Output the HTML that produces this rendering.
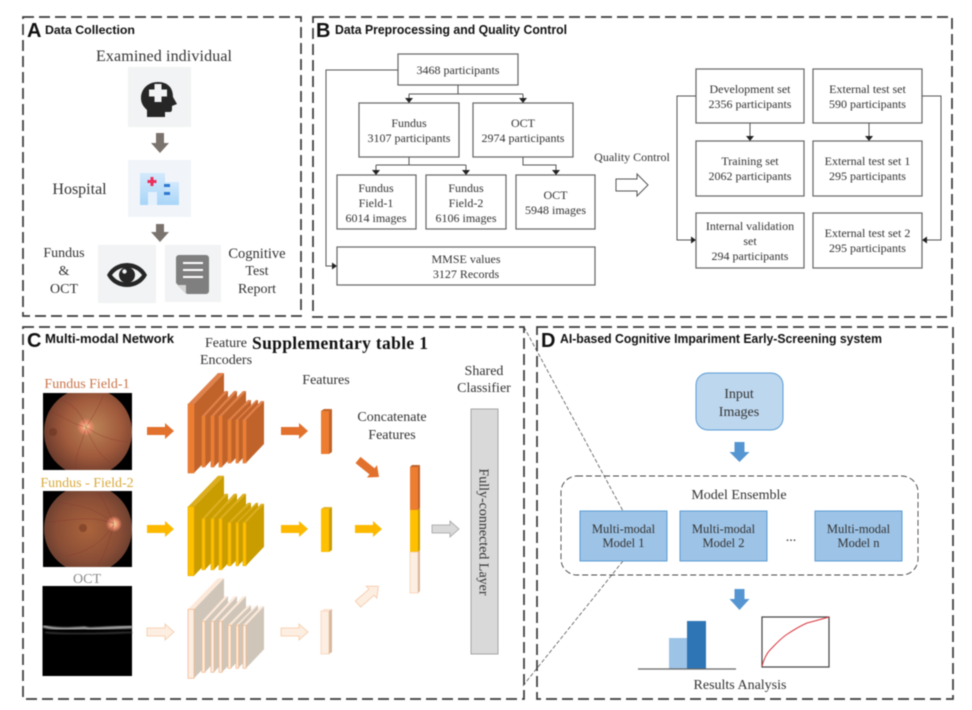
<!DOCTYPE html>
<html><head><meta charset="utf-8"><style>
html,body{margin:0;padding:0;background:#fff;width:972px;height:710px;overflow:hidden}
svg{display:block;filter:blur(.45px)}
text{font-family:"Liberation Serif",serif;fill:#333;text-anchor:middle;font-size:12px}
.t{font-family:"Liberation Sans",sans-serif;font-weight:bold;fill:#111;text-anchor:start}
.L{font-family:"Liberation Sans",sans-serif;font-weight:bold;fill:#111;text-anchor:start;font-size:20px}
.m{font-size:14px}
.p{fill:none;stroke:#3a3a3a;stroke-width:1.7;stroke-dasharray:11 5}
.b{fill:#fff;stroke:#666;stroke-width:1.2}
.c{fill:none;stroke:#555;stroke-width:1}
.f{fill:#222}
</style></head><body>
<svg width="972" height="710" viewBox="0 0 972 710" xmlns="http://www.w3.org/2000/svg">
<defs>
<g id="enc">
<g id="l1"><polygon style="fill:var(--d)" points="194,404 224,373 224,442 194,473"/><polygon style="fill:var(--t)" points="188,404 218,373 224,373 194,404"/><rect x="188" y="404" width="6" height="69" style="fill:var(--s);stroke:var(--e);stroke-width:.7"/></g>
<polygon style="fill:var(--d)" points="205,416 228,391 228,442 205,467"/><polygon style="fill:var(--t)" points="202,416 225,391 228,391 205,416"/><rect x="202" y="416" width="3" height="51" style="fill:var(--s);stroke:var(--e);stroke-width:.7"/>
<polygon style="fill:var(--d)" points="214,416 237,391 237,442 214,467"/><polygon style="fill:var(--t)" points="211,416 234,391 237,391 214,416"/><rect x="211" y="416" width="3" height="51" style="fill:var(--s);stroke:var(--e);stroke-width:.7"/>
<polygon style="fill:var(--d)" points="222,416 246,391 246,442 222,467"/><polygon style="fill:var(--t)" points="219,416 243,391 246,391 222,416"/><rect x="219" y="416" width="3" height="51" style="fill:var(--s);stroke:var(--e);stroke-width:.7"/>
<polygon style="fill:var(--d)" points="231,420 251,400 251,443 231,463"/><polygon style="fill:var(--t)" points="228,420 248,400 251,400 231,420"/><rect x="228" y="420" width="3" height="43" style="fill:var(--s);stroke:var(--e);stroke-width:.7"/>
<polygon style="fill:var(--d)" points="238,420 258,400 258,443 238,463"/><polygon style="fill:var(--t)" points="236,420 256,400 258,400 238,420"/><rect x="236" y="420" width="2.5" height="43" style="fill:var(--s);stroke:var(--e);stroke-width:.7"/>
<polygon style="fill:var(--d)" points="246,420 264,401 264,444 246,463"/><polygon style="fill:var(--t)" points="243,420 261,401 264,401 246,420"/><rect x="243" y="420" width="3" height="43" style="fill:var(--s);stroke:var(--e);stroke-width:.7"/>
</g>
<polygon id="ra" points="0,-4 18,-4 18,-8 27,0 18,8 18,4 0,4"/>
<radialGradient id="r1" cx=".55" cy=".45" r=".6"><stop offset="0" stop-color="#bd8558"/><stop offset=".55" stop-color="#a05a3c"/><stop offset="1" stop-color="#65372a"/></radialGradient>
<radialGradient id="r2" cx=".5" cy=".5" r=".6"><stop offset="0" stop-color="#ab643c"/><stop offset=".6" stop-color="#8a4e36"/><stop offset="1" stop-color="#5a372c"/></radialGradient>
<radialGradient id="dk"><stop offset="0" stop-color="#fbe0a0"/><stop offset=".55" stop-color="#e88a6a"/><stop offset="1" stop-color="#e88a6a" stop-opacity="0"/></radialGradient>
<linearGradient id="hb" x1="0" y1="0" x2="0" y2="1"><stop offset="0" stop-color="#d3e9fc"/><stop offset="1" stop-color="#a8d5f8"/></linearGradient>
<clipPath id="c1"><rect x="43" y="393" width="89" height="77"/></clipPath>
<clipPath id="c2"><rect x="43" y="491" width="89" height="76"/></clipPath>
<filter id="bl"><feGaussianBlur stdDeviation=".9"/></filter>
</defs>

<!-- zoom lines -->
<path d="M524 327L623 511M623 561L522 687" fill="none" stroke="#555" stroke-width=".8" stroke-dasharray="4 2"/>

<!-- panels -->
<rect class="p" x="23" y="17" width="278" height="299"/>
<rect class="p" x="313" y="17" width="639" height="300"/>
<rect class="p" x="23" y="327" width="501" height="372"/>
<rect class="p" x="537" y="327" width="416" height="372"/>

<text class="L" x="27" y="37">A</text>
<text class="t" x="45" y="34" style="font-size:12px" textLength="90" lengthAdjust="spacingAndGlyphs">Data Collection</text>
<text class="L" x="316" y="37">B</text>
<text class="t" x="335" y="34" style="font-size:12.5px" textLength="232" lengthAdjust="spacingAndGlyphs">Data Preprocessing and Quality Control</text>
<text class="L" x="27" y="347">C</text>
<text class="t" x="45" y="343" style="font-size:12.5px" textLength="129" lengthAdjust="spacingAndGlyphs">Multi-modal Network</text>
<text class="L" x="541" y="347">D</text>
<text class="t" x="560" y="343" style="font-size:12.5px" textLength="322" lengthAdjust="spacingAndGlyphs">AI-based Cognitive Impariment Early-Screening system</text>

<!-- A -->
<text x="164" y="61" style="font-size:16px" textLength="136">Examined individual</text>
<rect x="128" y="67" width="63" height="60" fill="#f1f3f4"/>
<path fill="#262626" d="M158 82C147 82 141 90 141 98C141 104 144 107 147 110V117H165V112H170C172 112 172 110 172 108V106L177 104L173 97C173 88 168 82 158 82z"/>
<path fill="#f1f3f4" d="M154.500 84h7v5.500h5.500v7h-5.500v5.500h-7v-5.500H149v-7h5.500z"/>
<polygon fill="#7a726c" points="156,133 164,133 164,143 169,143 160,153 151,143 156,143"/>
<rect x="128" y="160" width="63" height="57" fill="#f1f5f9"/>
<rect x="140" y="173" width="25" height="32" fill="url(#hb)"/>
<rect x="165" y="182" width="14" height="23" fill="url(#hb)"/>
<rect x="148" y="192" width="9" height="13" fill="#e4f1fc"/>
<path fill="#ec2f5b" d="M150.500 177h3v3h3v3h-3v3h-3v-3h-3v-3h3z"/>
<rect x="164" y="184" width="6" height="3" fill="#2f78d0"/><rect x="164" y="192" width="6" height="3" fill="#2f78d0"/>
<polygon fill="#7a726c" points="156,224 164,224 164,232 169,232 160,242 151,232 156,232"/>
<text x="79.500" y="194" style="font-size:16px">Hospital</text>
<rect x="98" y="245" width="58" height="58" fill="#f1f3f4"/>
<path fill="#262626" d="M107 275C115 259 139 259 147 275 139 291 115 291 107 275z"/>
<path fill="#f1f3f4" d="M112 275C119 265 135 265 142 275 135 285 119 285 112 275z"/>
<circle cx="127" cy="275" r="8" fill="#262626"/><circle cx="124.500" cy="271.500" r="2.200" fill="#f1f3f4"/>
<rect x="165" y="245" width="56" height="57" fill="#f1f3f4"/>
<path fill="#7f7f7f" d="M179 255h27a3 3 0 0 1 3 3v33a3 3 0 0 1-3 3h-19l-11-11v-25a3 3 0 0 1 3-3z"/>
<path fill="#d5d5d5" d="M177 285h9v9z"/>
<path d="M183 263h20M183 270h20M183 277h20" stroke="#fff" stroke-width="2"/>
<text class="m" x="64" y="257">Fundus</text><text class="m" x="64" y="275">&amp;</text><text class="m" x="64" y="293">OCT</text>
<text class="m" x="257" y="258" style="font-size:14.500px">Cognitive</text><text class="m" x="257" y="275">Test</text><text class="m" x="257" y="293">Report</text>

<!-- B left -->
<rect class="b" x="398" y="54" width="120" height="31"/><text x="458" y="74">3468 participants</text>
<rect class="b" x="359" y="103" width="100" height="54"/><text x="409" y="127">Fundus</text><text x="409" y="142">3107 participants</text>
<rect class="b" x="473" y="103" width="100" height="54"/><text x="523" y="127">OCT</text><text x="523" y="142">2974 participants</text>
<rect class="b" x="337" y="175" width="79" height="54"/><text x="376" y="192">Fundus</text><text x="376" y="207">Field-1</text><text x="376" y="222">6014 images</text>
<rect class="b" x="426" y="175" width="80" height="54"/><text x="466" y="192">Fundus</text><text x="466" y="207">Field-2</text><text x="466" y="222">6106 images</text>
<rect class="b" x="516" y="175" width="79" height="54"/><text x="555.500" y="199">OCT</text><text x="555.500" y="214">5948 images</text>
<rect class="b" x="337" y="247" width="258" height="38"/><text x="466" y="263">MMSE values</text><text x="466" y="278">3127 Records</text>
<path class="c" d="M398 70H326V266H334M458 85V94M409 94H523M409 94V99M523 94V99M409 157V165M376 165H466M376 165V171M466 165V171M523 157V165H556V171"/>
<g class="f"><path d="M405 98h8l-4 5zM519 98h8l-4 5zM372 170h8l-4 5zM462 170h8l-4 5zM552 170h8l-4 5zM332 262.500v7l5-3.500z"/></g>

<text x="632" y="161">Quality Control</text>
<polygon points="616,179 637,179 637,174 648,185 637,196 637,191 616,191" fill="#fff" stroke="#555" stroke-width="1"/>

<!-- B right -->
<rect class="b" x="696" y="69" width="108" height="54"/><text x="750" y="93">Development set</text><text x="750" y="108">2356 participants</text>
<rect class="b" x="813" y="69" width="109" height="54"/><text x="867.500" y="93">External test set</text><text x="867.500" y="108">590 participants</text>
<rect class="b" x="696" y="141" width="108" height="55"/><text x="750" y="165">Training set</text><text x="750" y="180">2062 participants</text>
<rect class="b" x="813" y="141" width="109" height="55"/><text x="867.500" y="165">External test set 1</text><text x="867.500" y="180">295 participants</text>
<rect class="b" x="696" y="213" width="108" height="55"/><text x="750" y="230">Internal validation</text><text x="750" y="245">set</text><text x="750" y="260">294 participants</text>
<rect class="b" x="813" y="213" width="109" height="55"/><text x="867.500" y="237">External test set 2</text><text x="867.500" y="252">295 participants</text>
<path class="c" d="M696 96H677V240H692M750 123V137M869 123V137M922 96H941V240H926"/>
<g class="f"><path d="M746 136h8l-4 5zM865 136h8l-4 5zM691 236.500v7l5-3.500zM927 236.500v7l-5-3.500z"/></g>

<!-- C labels -->
<text class="m" x="226" y="347">Feature</text><text class="m" x="226" y="364">Encoders</text>
<text x="340" y="349" style="font-size:17.500px;font-weight:bold;fill:#111" textLength="176">Supplementary table 1</text>
<text class="m" x="326" y="384">Features</text>
<text class="m" x="392" y="421">Concatenate</text><text class="m" x="392" y="439">Features</text>
<text class="m" x="484" y="375">Shared</text><text class="m" x="484" y="392">Classifier</text>
<text class="m" x="87" y="388" style="fill:#c9744a">Fundus Field-1</text>
<text class="m" x="87" y="487" style="fill:#d9a93a">Fundus - Field-2</text>
<text class="m" x="87" y="583" style="fill:#8a8a8a">OCT</text>

<!-- fundus -->
<rect x="43" y="393" width="89" height="77" fill="#000"/>
<g clip-path="url(#c1)"><circle cx="88" cy="432" r="44" fill="url(#r1)"/>
<circle cx="86" cy="427" r="9" fill="url(#dk)"/><circle cx="53" cy="432" r="4" fill="#6a3320" opacity=".6"/>
<g fill="none" stroke="#8a3030" stroke-width=".6" opacity=".5"><path d="M86 427C80 410 70 402 60 400M86 427C96 412 100 404 103 396M86 427C82 445 74 455 76 470M86 427C100 437 115 441 128 442M86 427C70 424 58 412 48 412M86 427C94 447 100 455 110 462"/></g></g>
<rect x="43" y="491" width="89" height="76" fill="#000"/>
<g clip-path="url(#c2)"><circle cx="88" cy="529" r="44" fill="url(#r2)"/>
<circle cx="114" cy="524" r="8" fill="url(#dk)"/><circle cx="83" cy="528" r="4" fill="#70351f" opacity=".55"/>
<g fill="none" stroke="#8a3030" stroke-width=".6" opacity=".5"><path d="M114 524C100 510 80 505 58 502M114 524C108 510 104 500 98 493M114 524C100 545 85 553 66 556M114 524C108 545 104 555 98 566M114 524C95 515 70 520 50 522"/></g></g>
<rect x="42.500" y="586" width="89.500" height="90" fill="#000"/>
<path d="M43 626C55 630 70 629 85 628 90 630 100 628 132 627" stroke="#a5a5a5" stroke-width="3" fill="none" filter="url(#bl)"/>
<path d="M45 632C60 635 100 634 132 632" stroke="#333" stroke-width="2" fill="none" filter="url(#bl)"/>

<!-- encoders -->
<use href="#enc" style="--s:#ed7d31;--d:#c0632a;--t:#e0804a;--e:#e0803f"/>
<use href="#enc" transform="translate(0 102.700)" style="--s:#ffc000;--d:#c99c00;--t:#dcae1e;--e:#e8b000"/>
<use href="#enc" transform="translate(0 205.300)" style="--s:#fdeee2;--d:#cfc6b9;--t:#fde9da;--e:#f4b183"/>

<!-- arrows -->
<g fill="#e2712d"><use href="#ra" x="147" y="431"/><use href="#ra" x="281" y="431"/></g>
<g fill="#fcb900"><use href="#ra" x="147" y="529"/><use href="#ra" x="281" y="529"/><use href="#ra" x="355" y="529"/></g>
<g fill="#fdeee2" stroke="#f6c7a3" stroke-width=".8"><use href="#ra" x="147" y="632"/><use href="#ra" x="281" y="632"/></g>
<use href="#ra" transform="translate(358 460) rotate(39)" fill="#e2712d"/>
<use href="#ra" transform="translate(358 604) rotate(-41)" fill="#fdeee2" stroke="#f6c7a3" stroke-width=".8"/>
<use href="#ra" x="432" y="529" fill="#d9d9d9" stroke="#a0a0a0" stroke-width=".8"/>

<!-- feature bars -->
<rect x="321" y="411" width="8" height="43" fill="#ed7d31"/><polygon points="329,411 332,409 332,452 329,454" fill="#c0632a"/><polygon points="321,411 324,409 332,409 329,411" fill="#c0632a"/>
<rect x="321" y="509" width="8" height="43" fill="#ffc000"/><polygon points="329,509 332,507 332,550 329,552" fill="#c99c00"/><polygon points="321,509 324,507 332,507 329,509" fill="#e3b52a"/>
<rect x="321" y="611" width="8" height="43" fill="#fdeee2" stroke="#f6c7a3" stroke-width=".6"/><polygon points="329,611 332,609 332,652 329,654" fill="#d8b8a0"/><polygon points="321,611 324,609 332,609 329,611" fill="#fde2cf"/>
<rect x="410" y="467" width="8" height="43" fill="#ed7d31"/><polygon points="418,467 420,465 420,508 418,510" fill="#c0632a"/><polygon points="410,467 412,465 420,465 418,467" fill="#c0632a"/>
<rect x="410" y="510" width="8" height="42" fill="#ffc000"/><polygon points="418,510 420,508 420,550 418,552" fill="#c99c00"/>
<rect x="410" y="552" width="8" height="41" fill="#fdeee2" stroke="#f6c7a3" stroke-width=".6"/><polygon points="418,552 420,550 420,591 418,593" fill="#d8b8a0"/>

<rect x="471" y="409" width="27" height="245" fill="#d9d9d9" stroke="#a5a5a5" stroke-width="1"/>
<text class="m" transform="translate(479.500 532) rotate(90)">Fully-connected Layer</text>

<!-- D -->
<rect x="696" y="373" width="87" height="57" rx="12" fill="#bdd7ee" stroke="#5b9bd5" stroke-width="1"/>
<text class="m" x="739" y="398">Input</text><text class="m" x="739" y="416">Images</text>
<polygon fill="#5596d2" points="734.500,442 744.500,442 744.500,452 749.500,452 739.500,462 729.500,452 734.500,452"/>
<rect x="561" y="476" width="357" height="99" rx="16" fill="none" stroke="#444" stroke-width=".9" stroke-dasharray="6 3"/>
<text class="m" x="739" y="499">Model Ensemble</text>
<g fill="#9dc3e6" stroke="#5b9bd5" stroke-width="1"><rect x="580" y="511" width="87" height="50"/><rect x="680" y="511" width="87" height="50"/><rect x="815" y="511" width="87" height="50"/></g>
<text x="623.500" y="533" style="font-size:12.500px">Multi-modal</text><text x="623.500" y="547" style="font-size:12.500px">Model 1</text>
<text x="723.500" y="533" style="font-size:12.500px">Multi-modal</text><text x="723.500" y="547" style="font-size:12.500px">Model 2</text>
<text x="858.500" y="533" style="font-size:12.500px">Multi-modal</text><text x="858.500" y="547" style="font-size:12.500px">Model n</text>
<text class="m" x="791" y="541">...</text>
<polygon fill="#5596d2" points="734.500,589 744.500,589 744.500,599 749.500,599 739.500,610 729.500,599 734.500,599"/>
<rect x="669" y="638" width="18" height="31" fill="#9dc3e6"/><rect x="687" y="621" width="19" height="48" fill="#2e75b6"/>
<path d="M638 669H736" stroke="#666" stroke-width="1.200"/>
<rect x="762" y="617" width="67" height="50" fill="#fff" stroke="#444" stroke-width="1.200"/>
<path d="M762 666C764 659 766 654 770 650 775 645 779 640 786 635 792 631 800 626 807 623 815 621 822 619 829 617" fill="none" stroke="#d9363e" stroke-width="1"/>
<text class="m" x="740" y="689">Results Analysis</text>
</svg>
</body></html>
